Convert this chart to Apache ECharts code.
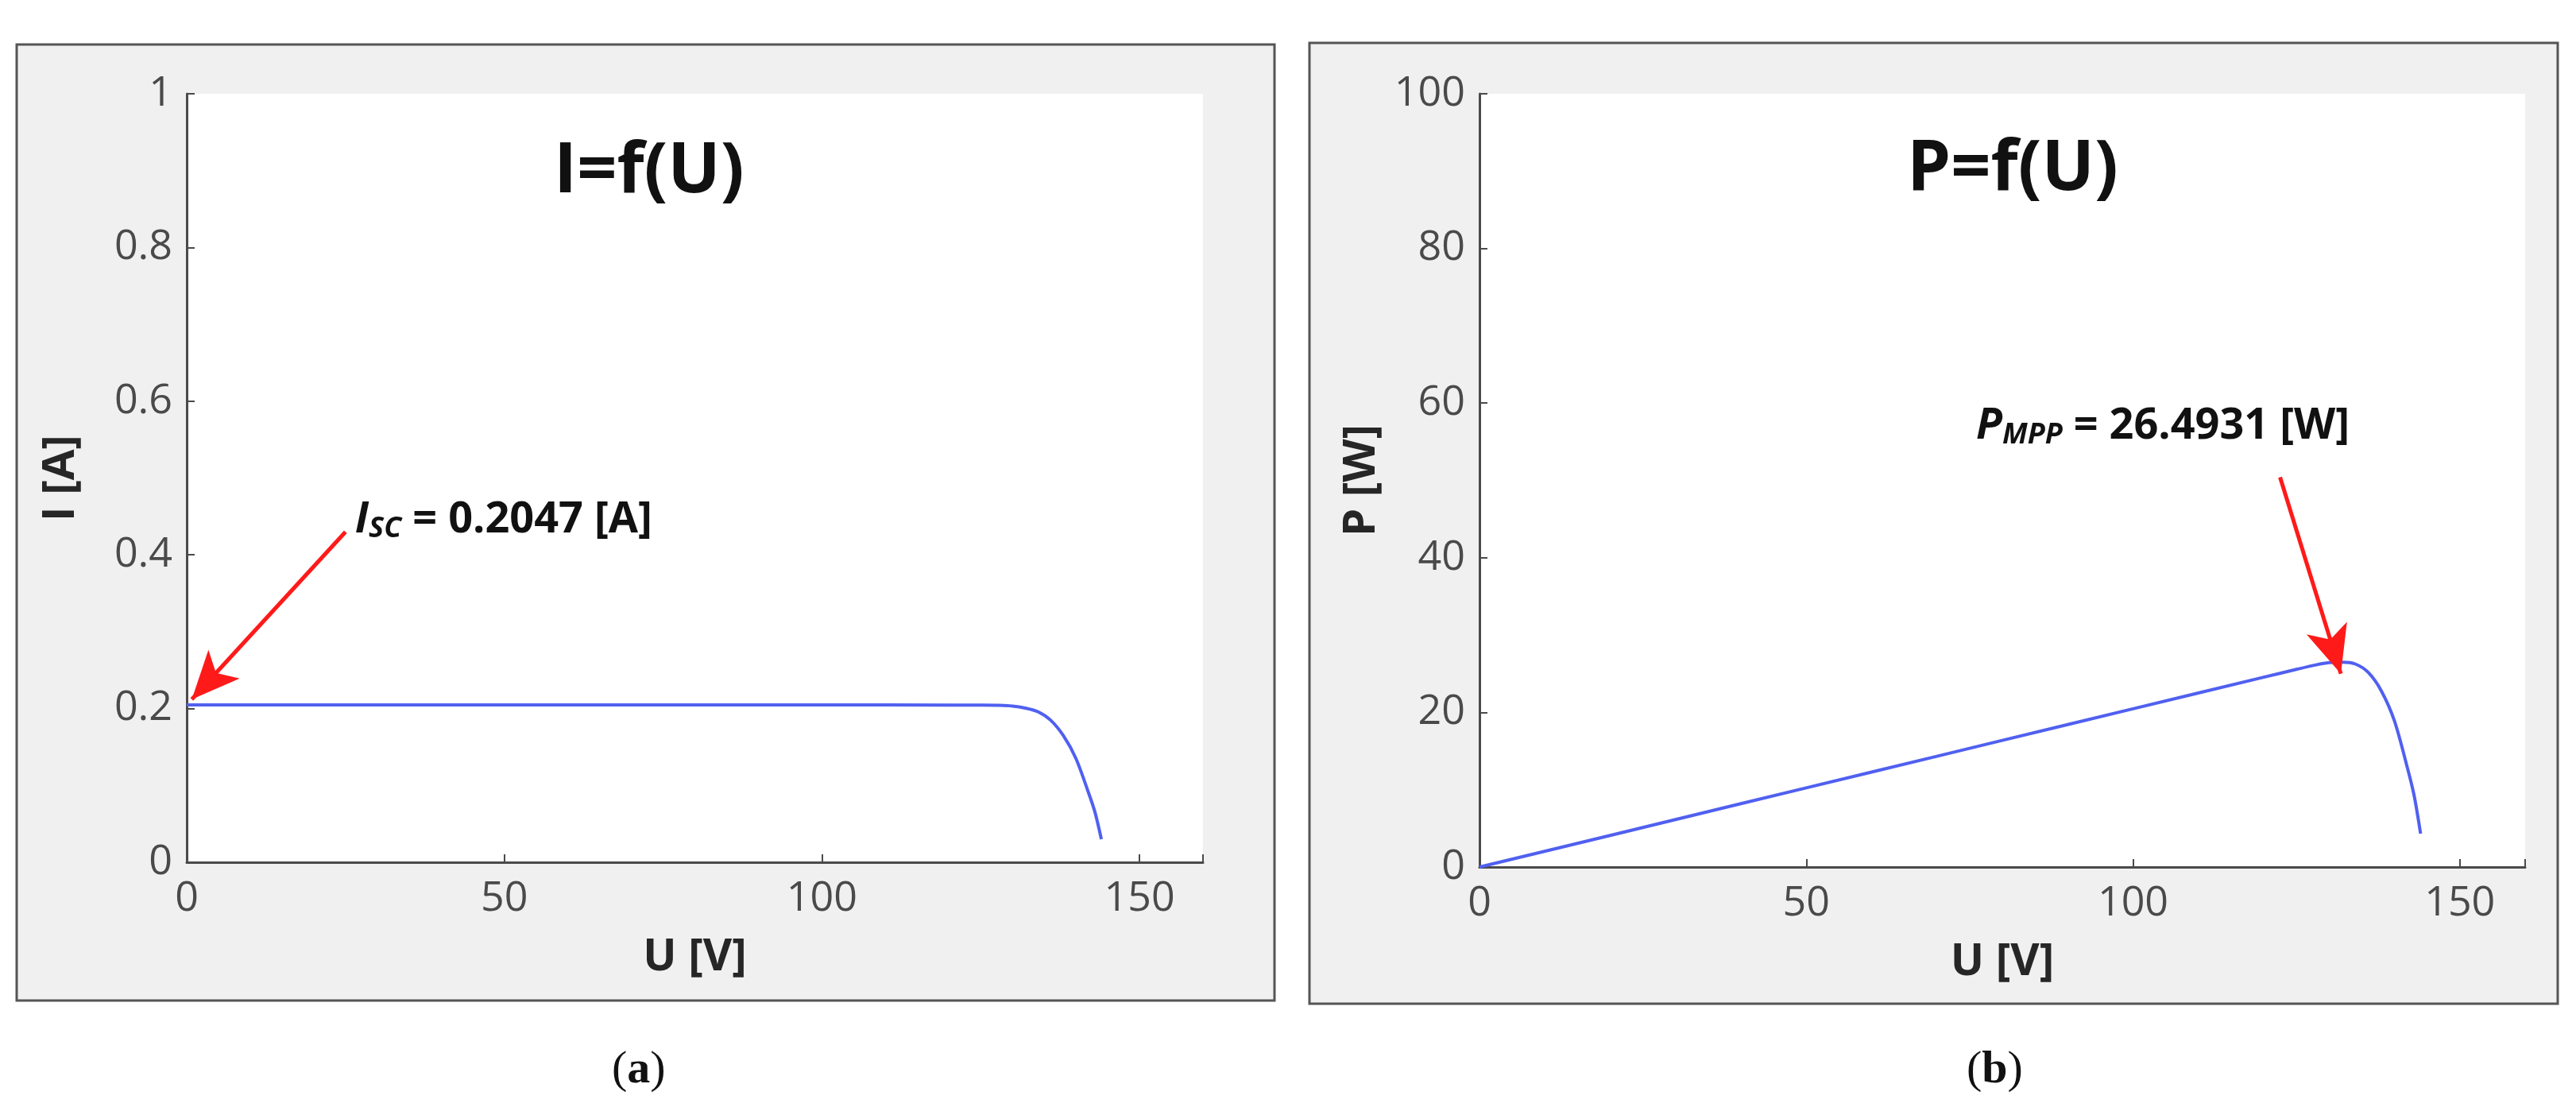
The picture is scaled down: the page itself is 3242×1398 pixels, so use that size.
<!DOCTYPE html>
<html><head><meta charset="utf-8">
<script src="https://cdn.jsdelivr.net/npm/echarts@6/dist/echarts.min.js"></script>
<style>html,body{margin:0;background:#fff}#c{width:3242px;height:1398px}</style>
</head><body><div id="c"></div>
<script>
// voltage samples [V]
const voltage = [0, 20, 40, 60, 80, 100, 120, 125, 128, 130, 132, 134, 136, 138, 140, 142, 143, 144];
// current [A]
const current = [0.2047, 0.2047, 0.2047, 0.2047, 0.2047, 0.2047, 0.2046, 0.2045, 0.2042, 0.2033, 0.2007, 0.196, 0.185, 0.165, 0.135, 0.09, 0.065, 0.03];
// power [W]
const power = [0, 4.09, 8.19, 12.28, 16.38, 20.47, 24.55, 25.56, 26.14, 26.43, 26.49, 26.26, 25.16, 22.77, 18.9, 12.78, 9.3, 4.32];
const xTicks = [0, 50, 100, 150];

const chart = echarts.init(document.getElementById('c'));
const font = 'Open Sans';
const axisCol = '#4a4a4a';

function xAxis(i) {
  return {
    gridIndex: i, type: 'value', min: 0, max: 160, interval: 50,
    name: 'U [V]', nameLocation: 'middle', nameGap: 92,
    nameTextStyle: { fontFamily: font, fontWeight: 'bold', fontSize: 56, color: '#262626' },
    axisLine: { lineStyle: { color: axisCol, width: 3 } },
    axisTick: { inside: true, length: 10, lineStyle: { color: axisCol, width: 2 } },
    axisLabel: { fontFamily: font, fontSize: 52, color: '#4a4a4a', margin: 20,
      formatter: v => xTicks.includes(v) ? v : '' },
    splitLine: { show: false }
  };
}
function yAxis(i, max, interval, name, fmt, gap) {
  return {
    gridIndex: i, type: 'value', min: 0, max: max, interval: interval,
    name: name, nameLocation: 'middle', nameGap: gap,
    nameTextStyle: { fontFamily: font, fontWeight: 'bold', fontSize: 56, color: '#262626' },
    axisLine: { show: true, lineStyle: { color: axisCol, width: 3 } },
    axisTick: { inside: true, length: 10, lineStyle: { color: axisCol, width: 2 } },
    axisLabel: { fontFamily: font, fontSize: 52, color: '#4a4a4a', margin: 18, formatter: fmt },
    splitLine: { show: false }
  };
}
const labelRich = {
  it: { fontFamily: font, fontStyle: 'italic', fontWeight: 'bold', fontSize: 54, color: '#111' },
  sub: { fontFamily: font, fontStyle: 'italic', fontWeight: 'bold', fontSize: 36, color: '#111', verticalAlign: 'bottom', padding: [22, 0, 0, 0] },
  b: { fontFamily: font, fontWeight: 'bold', fontSize: 54, color: '#111' }
};
function arrow(from, to) {
  return {
    silent: true, symbol: ['none', 'arrow'], symbolSize: [40, 60],
    lineStyle: { color: '#ff1a1a', width: 5, type: 'solid' }, label: { show: false },
    data: [[{ coord: from }, { coord: to }]]
  };
}
function note(coord, text) {
  return { symbol: 'circle', symbolSize: 0, silent: true, data: [{ coord: coord,
    label: { show: true, position: 'right', distance: 0, formatter: text, rich: labelRich } }] };
}

chart.setOption({
  animation: false,
  graphic: [
    { type: 'rect', shape: { x: 21, y: 56, width: 1583, height: 1203 }, style: { fill: '#f0f0f0', stroke: '#555', lineWidth: 3 }, z: -10 },
    { type: 'rect', shape: { x: 1648, y: 54, width: 1571, height: 1209 }, style: { fill: '#f0f0f0', stroke: '#555', lineWidth: 3 }, z: -10 },
    { type: 'text', left: 770, top: 1318, style: { text: '({b|a})', font: '58px "Liberation Serif"', fill: '#111',
      rich: { b: { fontFamily: 'Liberation Serif', fontWeight: 'bold', fontSize: 58, fill: '#111' } } } },
    { type: 'text', left: 2475, top: 1318, style: { text: '({b|b})', font: '58px "Liberation Serif"', fill: '#111',
      rich: { b: { fontFamily: 'Liberation Serif', fontWeight: 'bold', fontSize: 58, fill: '#111' } } } }
  ],
  title: [
    { text: 'I=f(U)', left: 692, top: 168, textStyle: { fontFamily: font, fontWeight: 'bold', fontSize: 88, color: '#111' } },
    { text: 'P=f(U)', left: 2395, top: 165, textStyle: { fontFamily: font, fontWeight: 'bold', fontSize: 88, color: '#111' } }
  ],
  grid: [
    { left: 235, top: 118, width: 1279, height: 967, show: true, backgroundColor: '#fff', borderWidth: 0 },
    { left: 1862, top: 118, width: 1316, height: 973, show: true, backgroundColor: '#fff', borderWidth: 0 }
  ],
  xAxis: [xAxis(0), xAxis(1)],
  yAxis: [
    yAxis(0, 1, 0.2, 'I [A]', v => v === 0 || v === 1 ? String(v) : v.toFixed(1), 130),
    yAxis(1, 100, 20, 'P [W]', v => v, 120)
  ],
  series: [
    {
      type: 'line', xAxisIndex: 0, yAxisIndex: 0, smooth: 0.3, showSymbol: false,
      lineStyle: { color: '#5060f0', width: 4 },
      data: voltage.map((u, k) => [u, current[k]]),
      markLine: arrow([25, 0.43], [0.8, 0.212]),
      markPoint: note([26.5, 0.445], '{it|I}{sub|SC}{b| = 0.2047 [A]}')
    },
    {
      type: 'line', xAxisIndex: 1, yAxisIndex: 1, smooth: 0.3, showSymbol: false,
      lineStyle: { color: '#5060f0', width: 4 },
      data: voltage.map((u, k) => [u, power[k]]),
      markLine: arrow([122.5, 50.4], [131.8, 25]),
      markPoint: note([76, 57], '{it|P}{sub|MPP}{b| = 26.4931 [W]}')
    }
  ]
});
</script></body></html>
